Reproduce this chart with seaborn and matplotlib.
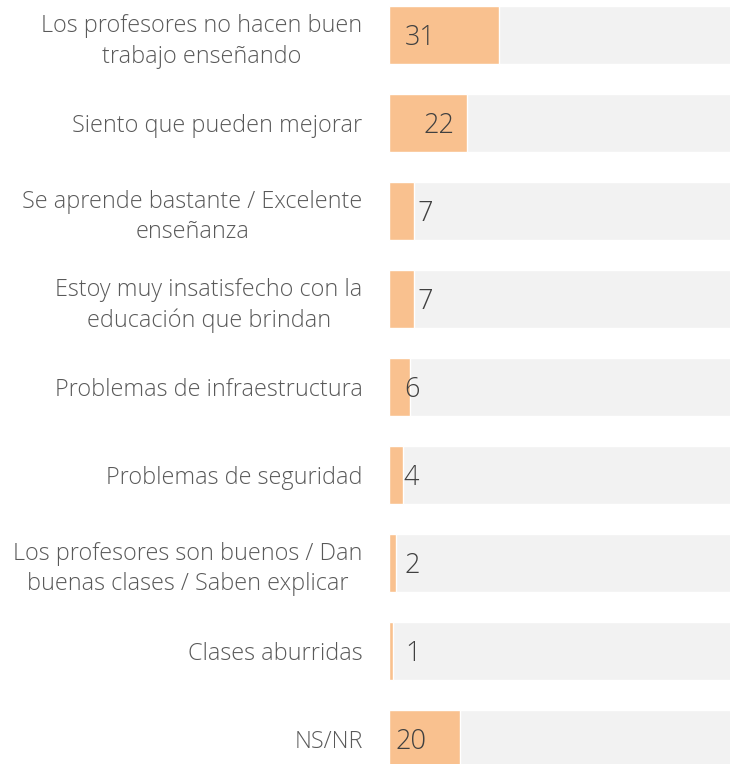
import numpy as np
import pandas as pd
import matplotlib
matplotlib.use("Agg")
import matplotlib.pyplot as plt
import seaborn as sns

# datos
categorias = [
    "Los profesores no hacen buen\ntrabajo enseñando",
    "Siento que pueden mejorar",
    "Se aprende bastante / Excelente\nenseñanza",
    "Estoy muy insatisfecho con la\neducación que brindan",
    "Problemas de infraestructura",
    "Problemas de seguridad",
    "Los profesores son buenos / Dan\nbuenas clases / Saben explicar",
    "Clases aburridas",
    "NS/NR",
]
valores = [31, 22, 7, 7, 6, 4, 2, 1, 20]
fondo = [100] * len(categorias)
# posición x de cada etiqueta de valor (en unidades del eje)
pos_etiqueta = [8.7, 14.1, 10.1, 10.1, 6.5, 6.3, 6.5, 6.8, 6.2]

df = pd.DataFrame({"categoria": categorias, "valor": valores, "fondo": fondo})

sns.set_style("white")
plt.rcParams["font.family"] = ["Open Sans", "DejaVu Sans"]

fig = plt.figure(figsize=(7.3, 7.64), dpi=100)
ax = fig.add_axes([389 / 730, 0, 1 - 389 / 730, 1])

# barras de fondo gris y barras naranjas
sns.barplot(data=df, x="fondo", y="categoria", color="#f2f2f2", width=0.66,
            saturation=1, ax=ax)
sns.barplot(data=df, x="valor", y="categoria", color="#f9c18f", width=0.66,
            saturation=1, ax=ax)

for i, (v, px) in enumerate(zip(valores, pos_etiqueta)):
    ax.text(px, i + 0.03, str(v), ha="center", va="center", fontsize=19.5,
            color="#404040", fontweight="light")

ax.set_xlim(0, 96)
ax.set_ylim(8.284, -0.398)
ax.set_xlabel("")
ax.set_ylabel("")
ax.set_xticks([])
ax.tick_params(axis="y", length=0, pad=19)
for lbl in ax.get_yticklabels():
    lbl.set_fontsize(16.8)
    lbl.set_color("#595959")
    lbl.set_multialignment("center")
    lbl.set_linespacing(1.36)
    lbl.set_fontweight("light")
sns.despine(ax=ax, left=True, bottom=True)

plt.savefig("out.png", dpi=100)
